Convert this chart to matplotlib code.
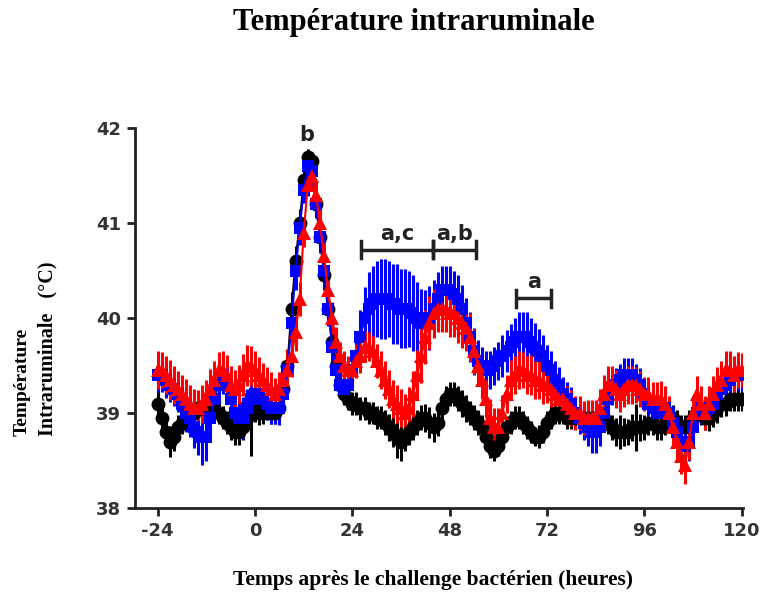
import numpy as np
import matplotlib
matplotlib.use('Agg')
import matplotlib.pyplot as plt

plt.rcParams['axes.unicode_minus'] = False

# heures après le challenge (une mesure par heure)
heures = np.arange(-24, 121)

temp_noir = [
    39.1, 38.95, 38.8, 38.7, 38.75, 38.85, 38.9, 38.95, 39.0, 39.0, 39.05, 39.05,
    39.1, 39.1, 39.05, 39.0, 38.95, 38.9, 38.85, 38.8, 38.8, 38.85, 38.95, 39.0,
    39.05, 39.0, 39.0, 39.05, 39.0, 39.0, 39.05, 39.25, 39.5, 40.1, 40.6, 41.0,
    41.45, 41.7, 41.65, 41.2, 40.85, 40.45, 40.1, 39.75, 39.5, 39.3, 39.2, 39.15,
    39.1, 39.1, 39.05, 39.05, 39.0, 39.0, 38.95, 38.95, 38.9, 38.85, 38.8, 38.75,
    38.7, 38.75, 38.8, 38.85, 38.9, 38.95, 38.95, 38.9, 38.85, 38.9, 39.05, 39.15,
    39.2, 39.2, 39.15, 39.1, 39.05, 39.0, 38.95, 38.9, 38.85, 38.75, 38.65, 38.6,
    38.65, 38.75, 38.85, 38.9, 38.95, 38.95, 38.9, 38.85, 38.8, 38.75, 38.75, 38.8,
    38.9, 38.95, 39.0, 39.0, 39.0, 38.95, 38.95, 38.95, 38.95, 38.95, 38.95, 38.95,
    38.95, 38.95, 38.95, 38.9, 38.85, 38.8, 38.8, 38.8, 38.8, 38.85, 38.85, 38.85,
    38.85, 38.9, 38.9, 38.85, 38.85, 38.9, 38.95, 38.95, 38.9, 38.85, 38.85, 38.9,
    38.95, 39.0, 39.0, 38.95, 38.95, 39.0, 39.05, 39.1, 39.1, 39.15, 39.15, 39.15,
    39.15]
err_noir = [
    0.15, 0.15, 0.14, 0.16, 0.15, 0.13, 0.12, 0.12, 0.12, 0.12, 0.12, 0.12,
    0.12, 0.12, 0.12, 0.12, 0.12, 0.12, 0.13, 0.14, 0.14, 0.13, 0.13, 0.45,
    0.14, 0.13, 0.12, 0.12, 0.12, 0.12, 0.12, 0.14, 0.16, 0.17, 0.16, 0.15,
    0.12, 0.08, 0.1, 0.12, 0.14, 0.15, 0.15, 0.14, 0.13, 0.12, 0.12, 0.12,
    0.12, 0.12, 0.12, 0.12, 0.12, 0.12, 0.12, 0.12, 0.13, 0.14, 0.16, 0.22,
    0.2, 0.15, 0.14, 0.13, 0.13, 0.13, 0.15, 0.16, 0.15, 0.14, 0.13, 0.13,
    0.13, 0.13, 0.13, 0.14, 0.14, 0.13, 0.13, 0.13, 0.13, 0.12, 0.12, 0.1,
    0.1, 0.12, 0.12, 0.12, 0.12, 0.12, 0.12, 0.12, 0.12, 0.1, 0.12, 0.12,
    0.12, 0.12, 0.12, 0.12, 0.12, 0.12, 0.12, 0.12, 0.12, 0.12, 0.12, 0.12,
    0.12, 0.12, 0.12, 0.12, 0.13, 0.15, 0.18, 0.15, 0.14, 0.14, 0.25, 0.14,
    0.13, 0.13, 0.13, 0.13, 0.13, 0.13, 0.13, 0.13, 0.13, 0.13, 0.13, 0.13,
    0.13, 0.13, 0.13, 0.13, 0.14, 0.15, 0.15, 0.14, 0.13, 0.13, 0.13, 0.13,
    0.13]

temp_bleu = [
    39.4, 39.4, 39.35, 39.3, 39.25, 39.2, 39.1, 39.0, 38.95, 38.85, 38.8, 38.75,
    38.75, 38.95, 39.15, 39.3, 39.4, 39.3, 39.15, 39.0, 38.95, 38.95, 39.05, 39.15,
    39.2, 39.2, 39.15, 39.1, 39.05, 39.05, 39.05, 39.2, 39.45, 39.95, 40.5, 40.95,
    41.35, 41.6, 41.55, 41.2, 40.85, 40.5, 40.1, 39.7, 39.45, 39.3, 39.25, 39.3,
    39.45, 39.6, 39.8, 40.0, 40.1, 40.15, 40.2, 40.2, 40.2, 40.2, 40.15, 40.15,
    40.1, 40.1, 40.1, 40.05, 40.0, 39.95, 39.95, 40.0, 40.1, 40.2, 40.3, 40.3,
    40.3, 40.25, 40.2, 40.1, 39.95, 39.8, 39.65, 39.55, 39.5, 39.45, 39.45, 39.5,
    39.55, 39.6, 39.65, 39.7, 39.75, 39.8, 39.8, 39.8, 39.75, 39.7, 39.65, 39.6,
    39.5, 39.45, 39.35, 39.3, 39.2, 39.15, 39.1, 39.0, 38.95, 38.9, 38.85, 38.8,
    38.8, 38.85, 39.0, 39.15, 39.25, 39.3, 39.35, 39.4, 39.4, 39.4, 39.35, 39.3,
    39.2, 39.1, 39.05, 39.0, 39.0, 39.05, 39.0, 38.9, 38.8, 38.7, 38.65, 38.7,
    38.85, 39.0, 39.05, 39.0, 39.05, 39.1, 39.2, 39.25, 39.3, 39.35, 39.4, 39.4,
    39.4]
err_bleu = [
    0.18, 0.18, 0.19, 0.18, 0.18, 0.19, 0.2, 0.2, 0.2, 0.22, 0.24, 0.3,
    0.26, 0.22, 0.2, 0.2, 0.2, 0.2, 0.2, 0.2, 0.22, 0.22, 0.2, 0.2,
    0.19, 0.18, 0.18, 0.17, 0.17, 0.17, 0.18, 0.18, 0.2, 0.22, 0.2, 0.18,
    0.14, 0.1, 0.12, 0.15, 0.17, 0.18, 0.18, 0.17, 0.15, 0.14, 0.12, 0.15,
    0.18, 0.22, 0.28, 0.33, 0.38, 0.4, 0.4, 0.42, 0.42, 0.4, 0.42, 0.42,
    0.42, 0.42, 0.4, 0.4, 0.38, 0.36, 0.35, 0.34, 0.3, 0.28, 0.25, 0.25,
    0.25, 0.25, 0.25, 0.25, 0.26, 0.26, 0.25, 0.22, 0.2, 0.2, 0.2, 0.2,
    0.2, 0.22, 0.22, 0.24, 0.25, 0.26, 0.26, 0.26, 0.25, 0.25, 0.24, 0.22,
    0.22, 0.2, 0.2, 0.19, 0.18, 0.18, 0.17, 0.17, 0.17, 0.18, 0.2, 0.22,
    0.22, 0.2, 0.18, 0.17, 0.17, 0.17, 0.17, 0.18, 0.18, 0.18, 0.17, 0.17,
    0.17, 0.17, 0.17, 0.18, 0.18, 0.18, 0.17, 0.17, 0.18, 0.2, 0.2, 0.2,
    0.18, 0.17, 0.17, 0.17, 0.17, 0.17, 0.17, 0.17, 0.17, 0.17, 0.17, 0.17,
    0.17]

temp_rouge = [
    39.45, 39.45, 39.4, 39.35, 39.3, 39.25, 39.2, 39.15, 39.1, 39.05, 39.05, 39.1,
    39.15, 39.25, 39.35, 39.45, 39.45, 39.4, 39.3, 39.25, 39.3, 39.4, 39.5, 39.5,
    39.45, 39.4, 39.35, 39.3, 39.25, 39.2, 39.25, 39.35, 39.45, 39.6, 39.85, 40.2,
    40.9, 41.4, 41.5, 41.3, 41.0, 40.65, 40.3, 40.0, 39.75, 39.6, 39.5, 39.45,
    39.45, 39.55, 39.6, 39.7, 39.7, 39.65, 39.55, 39.45, 39.35, 39.25, 39.15, 39.1,
    39.05, 39.0, 39.05, 39.2, 39.4, 39.6, 39.8, 39.95, 40.05, 40.1, 40.1, 40.1,
    40.05, 40.05, 40.0, 39.95, 39.9, 39.8, 39.65, 39.5, 39.35, 39.15, 38.95, 38.85,
    38.85, 39.0, 39.2, 39.35, 39.4, 39.45, 39.45, 39.4, 39.4, 39.35, 39.35, 39.3,
    39.3, 39.25, 39.2, 39.15, 39.15, 39.1, 39.05, 39.0, 39.0, 38.95, 38.95, 38.95,
    38.95, 39.05, 39.2, 39.3, 39.3, 39.25, 39.2, 39.25, 39.3, 39.3, 39.3, 39.25,
    39.2, 39.2, 39.15, 39.15, 39.15, 39.1, 39.0, 38.85, 38.7, 38.55, 38.45, 38.7,
    39.0, 39.2, 39.1, 39.0, 39.1, 39.2, 39.3, 39.35, 39.45, 39.45, 39.4, 39.45,
    39.45]
err_rouge = [
    0.2, 0.19, 0.2, 0.21, 0.2, 0.19, 0.2, 0.21, 0.2, 0.2, 0.19, 0.2,
    0.2, 0.21, 0.2, 0.19, 0.2, 0.21, 0.2, 0.2, 0.21, 0.22, 0.22, 0.21,
    0.2, 0.19, 0.18, 0.18, 0.18, 0.17, 0.18, 0.2, 0.22, 0.22, 0.2, 0.18,
    0.15, 0.12, 0.12, 0.14, 0.16, 0.17, 0.18, 0.17, 0.16, 0.15, 0.15, 0.15,
    0.18, 0.18, 0.18, 0.16, 0.15, 0.16, 0.18, 0.2, 0.2, 0.2, 0.2, 0.2,
    0.2, 0.2, 0.22, 0.24, 0.26, 0.28, 0.28, 0.28, 0.26, 0.25, 0.25, 0.25,
    0.25, 0.25, 0.26, 0.26, 0.25, 0.25, 0.24, 0.22, 0.2, 0.2, 0.2, 0.2,
    0.2, 0.19, 0.2, 0.21, 0.2, 0.2, 0.19, 0.2, 0.21, 0.2, 0.2, 0.2,
    0.19, 0.19, 0.18, 0.18, 0.18, 0.19, 0.19, 0.18, 0.18, 0.18, 0.19, 0.19,
    0.19, 0.2, 0.2, 0.2, 0.2, 0.2, 0.19, 0.19, 0.2, 0.2, 0.19, 0.19,
    0.18, 0.18, 0.18, 0.18, 0.19, 0.19, 0.18, 0.18, 0.18, 0.19, 0.2, 0.19,
    0.18, 0.19, 0.18, 0.18, 0.18, 0.19, 0.19, 0.2, 0.2, 0.2, 0.2, 0.19,
    0.18]

# lettres de significativité : (début, fin, hauteur du trait, texte)
crochets = [(26.2, 43.8, 40.72, 'a,c'), (43.8, 54.6, 40.72, 'a,b'), (64.4, 73.0, 40.21, 'a')]

serif = 'Liberation Serif'
sans = 'DejaVu Sans'

fig = plt.figure(figsize=(7.6, 5.97), dpi=100)
ax = fig.add_axes([0.1776, 0.149, 0.8, 0.6365])

series = [(temp_noir, err_noir, 'black', 'o', 10),
          (temp_bleu, err_bleu, '#0000ff', 's', 8),
          (temp_rouge, err_rouge, '#ff0000', '^', 10)]
for y, e, c, m, ms in series:
    ax.errorbar(heures, y, yerr=e, color=c, ecolor=c, marker=m, markersize=ms,
                markeredgewidth=0, linestyle='-', linewidth=1.5,
                elinewidth=2.2, capsize=5.5, capthick=1.5)

# crochets + lettres
for x0, x1, yb, txt in crochets:
    ax.plot([x0, x1], [yb, yb], color='#222222', lw=2.5, solid_capstyle='butt')
    for xx in (x0, x1):
        ax.plot([xx, xx], [yb - 0.09, yb + 0.09], color='#222222', lw=2.5)
    ax.text((x0 + x1) / 2, yb + 0.06, txt, ha='center', va='bottom',
            fontsize=15, fontweight='bold', family=sans, color='#222222')
ax.text(12.7, 41.82, 'b', ha='center', va='bottom', fontsize=15,
        fontweight='bold', family=sans, color='#222222')

ax.set_xlim(-29.6, 120.3)
ax.set_ylim(38, 42)
ax.set_xticks([-24, 0, 24, 48, 72, 96, 120])
ax.set_yticks([38, 39, 40, 41, 42])
ax.spines['top'].set_visible(False)
ax.spines['right'].set_visible(False)
for s in ('left', 'bottom'):
    ax.spines[s].set_linewidth(2)
    ax.spines[s].set_color('#222222')
ax.tick_params(direction='out', length=6, width=2, color='#222222', pad=4)
for lab in ax.get_xticklabels() + ax.get_yticklabels():
    lab.set_fontfamily(sans)
    lab.set_fontweight('bold')
    lab.set_fontsize(13)
    lab.set_color('#333333')

fig.text(0.545, 0.962, 'Température intraruminale', ha='center', va='center',
         fontsize=22, fontweight='bold', family=serif)
fig.text(0.570, 0.028, 'Temps après le challenge bactérien (heures)', ha='center',
         va='center', fontsize=15.5, fontweight='bold', family=serif)
ybas = (597 - 436) / 597
fig.text(22 / 760, ybas, 'Température', rotation=90, ha='center', va='bottom',
         fontsize=14, fontweight='bold', family=serif)
fig.text(47 / 760, ybas, 'Intraruminale   (°C)', rotation=90, ha='center',
         va='bottom', fontsize=14.5, fontweight='bold', family=serif)

fig.savefig('out.png', dpi=100)
